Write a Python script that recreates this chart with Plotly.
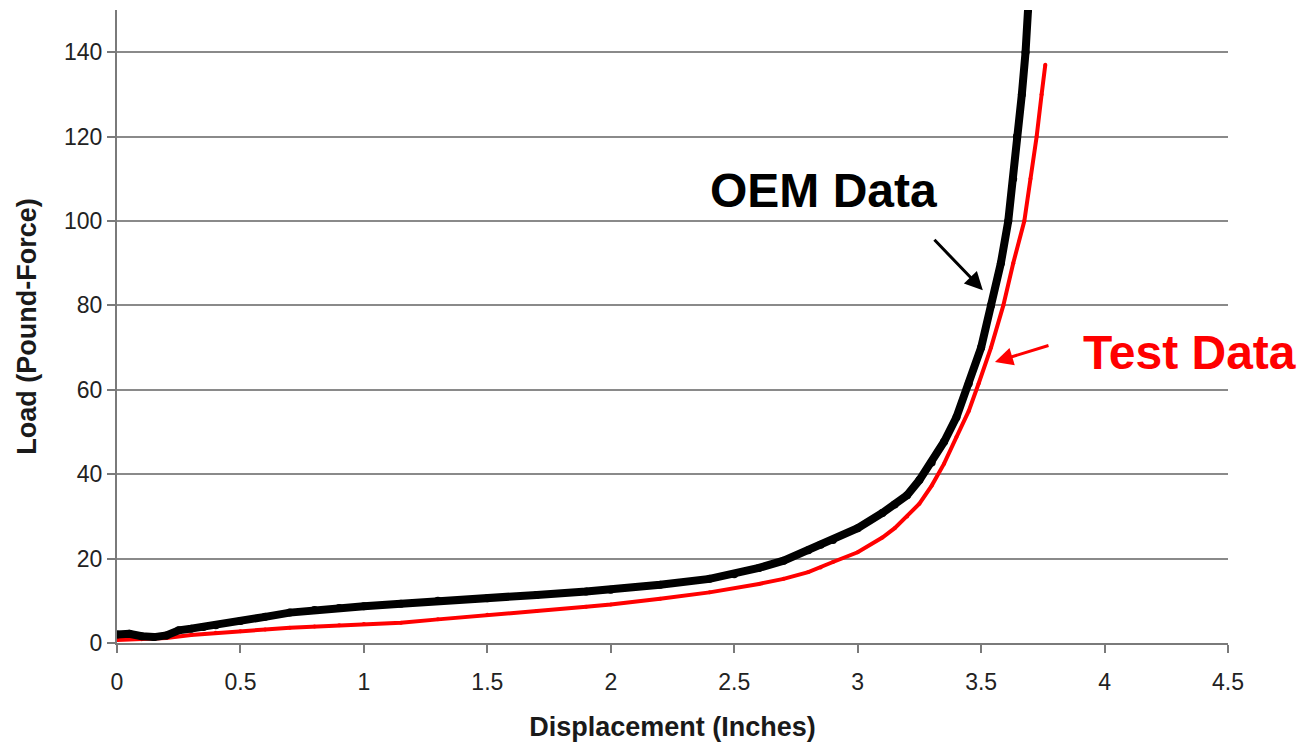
import plotly.graph_objects as go

# OEM data (black)
oem_x = [0.00, 0.05, 0.10, 0.15, 0.20, 0.25, 0.30, 0.35, 0.40, 0.50, 0.60, 0.70, 0.80, 0.90,
         1.00, 1.15, 1.30, 1.50, 1.70, 1.90, 2.00, 2.20, 2.40, 2.50, 2.60, 2.70, 2.80, 2.85,
         2.90, 3.00, 3.10, 3.15, 3.20, 3.25, 3.30, 3.35, 3.40, 3.45, 3.50, 3.54, 3.58, 3.61,
         3.63, 3.645, 3.665, 3.68, 3.69]
oem_y = [2.0, 2.2, 1.6, 1.4, 1.8, 3.0, 3.4, 3.8, 4.2, 5.2, 6.2, 7.2, 7.8, 8.3,
         8.7, 9.3, 10.0, 10.6, 11.4, 12.2, 12.6, 13.8, 15.2, 16.3, 17.8, 19.5, 22.0, 23.3,
         24.4, 27.2, 30.8, 32.8, 35.0, 38.6, 42.8, 47.7, 53.5, 61.5, 70.0, 80.0, 90.0, 100.0,
         110.0, 120.0, 130.0, 140.0, 150.0]

# Test data (red)
test_x = [0.00, 0.10, 0.20, 0.30, 0.40, 0.50, 0.60, 0.70, 0.80, 0.90, 1.00, 1.15, 1.30, 1.50,
          1.70, 1.90, 2.00, 2.20, 2.40, 2.60, 2.70, 2.80, 2.85, 2.90, 3.00, 3.10, 3.15, 3.20,
          3.25, 3.30, 3.35, 3.40, 3.45, 3.49, 3.54, 3.59, 3.63, 3.675, 3.70, 3.725, 3.745, 3.76]
test_y = [0.7, 0.9, 1.2, 1.9, 2.4, 2.8, 3.2, 3.6, 3.9, 4.2, 4.5, 4.8, 5.6, 6.7,
          7.6, 8.6, 9.1, 10.5, 12.0, 14.0, 15.2, 16.8, 17.9, 19.2, 21.5, 25.0, 27.2, 30.0,
          33.0, 37.3, 42.5, 48.8, 55.0, 61.5, 70.0, 80.0, 90.0, 100.0, 110.0, 120.0, 130.0, 137.0]

x_ticks = [0, 0.5, 1, 1.5, 2, 2.5, 3, 3.5, 4, 4.5]
x_tick_labels = ["0", "0.5", "1", "1.5", "2", "2.5", "3", "3.5", "4", "4.5"]
y_ticks = [0, 20, 40, 60, 80, 100, 120, 140]

fig = go.Figure()
fig.add_trace(go.Scatter(
    x=test_x, y=test_y, mode="lines+markers", name="Test Data",
    line=dict(color="#ff0000", width=4), marker=dict(color="#ff0000", size=4),
))
fig.add_trace(go.Scatter(
    x=oem_x, y=oem_y, mode="lines+markers", name="OEM Data",
    line=dict(color="#000000", width=8), marker=dict(color="#000000", size=8),
))

axis_font = dict(family="Liberation Sans, Arial", size=23, color="#222222")
title_font = dict(family="Liberation Sans, Arial", size=27, color="#1a1a1a")
fig.update_layout(
    width=1301, height=739,
    paper_bgcolor="white", plot_bgcolor="white",
    showlegend=False,
    margin=dict(l=109, r=81, t=2, b=104),
    xaxis=dict(
        range=[0, 4.5], tickvals=x_ticks, ticktext=x_tick_labels, automargin=False,
        showgrid=False, zeroline=False, showline=True, linecolor="#7a7a7a", linewidth=2,
        ticks="outside", ticklen=8, tickwidth=2, tickcolor="#7a7a7a",
        tickfont=axis_font, ticklabelstandoff=9,
        title=dict(text="<b>Displacement (Inches)</b>", font=title_font, standoff=24),
    ),
    yaxis=dict(
        range=[0, 150], tickvals=y_ticks, automargin=False,
        showgrid=True, gridcolor="#8a8a8a", gridwidth=1.5,
        zeroline=False, showline=True, linecolor="#7a7a7a", linewidth=2,
        ticks="outside", ticklen=8, tickwidth=2, tickcolor="#7a7a7a",
        tickfont=axis_font, ticklabelstandoff=0,
        title=dict(text="<b>Load (Pound-Force)</b>", font=title_font, standoff=20),
    ),
    annotations=[
        dict(x=2.863, y=107.3, xref="x", yref="y", text="<b>OEM Data</b>", showarrow=False,
             font=dict(family="Liberation Sans, Arial", size=48, color="#000000")),
        dict(x=4.346, y=68.9, xref="x", yref="y", text="<b>Test Data</b>", showarrow=False,
             font=dict(family="Liberation Sans, Arial", size=48, color="#ff0000")),
        dict(x=3.507, y=83.6, ax=3.305, ay=95.9, xref="x", yref="y", axref="x", ayref="y",
             text="", showarrow=True, arrowhead=2, arrowsize=1.2, arrowwidth=3, arrowcolor="#000000"),
        dict(x=3.556, y=66.6, ax=3.779, ay=70.6, xref="x", yref="y", axref="x", ayref="y",
             text="", showarrow=True, arrowhead=2, arrowsize=1.2, arrowwidth=3, arrowcolor="#ff0000"),
    ],
)

fig.write_html("out.html")
